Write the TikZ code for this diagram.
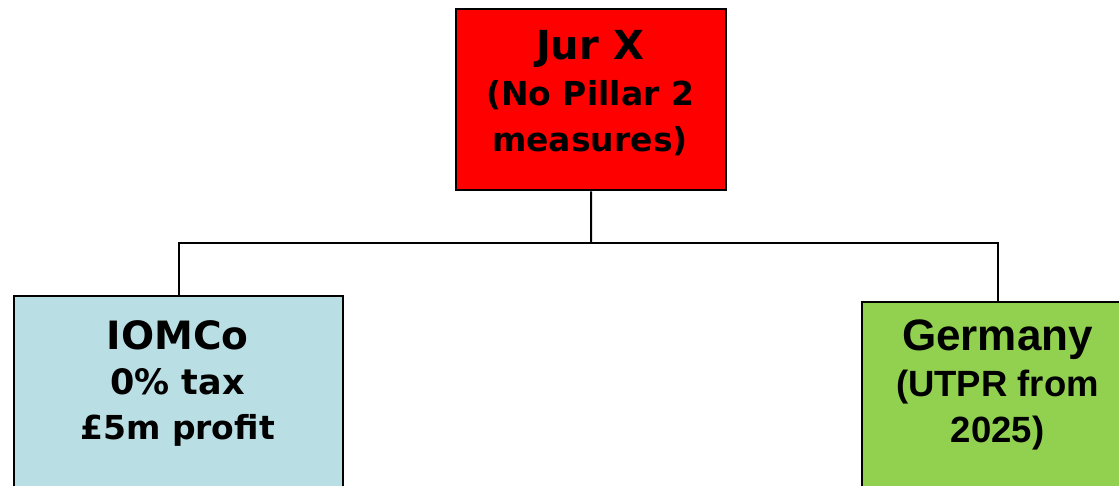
\documentclass[tikz,border=0pt]{standalone}
\usepackage{fontspec}
\setmainfont{DejaVu Sans}
\newfontfamily\arialfont{Liberation Sans}
\definecolor{boxred}{RGB}{255,0,0}
\definecolor{boxblue}{RGB}{185,223,228}
\definecolor{boxgreen}{RGB}{146,208,80}
\begin{document}
\begin{tikzpicture}[x=1pt,y=-1pt,
  box/.style={draw=black, line width=2.4pt, inner sep=0pt, anchor=north west},
  link/.style={draw=black, line width=2pt},
  lbl/.style={align=center, inner sep=0pt, anchor=north}]
\useasboundingbox (0,0) rectangle (1119,486);
\fill[white] (0,0) rectangle (1119,486);
\begin{scope}
\clip (0,0) rectangle (1119,486);
% parent and the two entities below it
\node[box, fill=boxred, minimum width=270pt, minimum height=181pt] (jur) at (455,8) {};
\node[box, fill=boxblue, minimum width=329pt, minimum height=240pt] (iom) at (13,295) {};
\node[box, fill=boxgreen, minimum width=272pt, minimum height=240pt] (ger) at (861,301) {};
% labels
\node[lbl, font=\bfseries\fontsize{33}{46}\selectfont] (jurtext) at (590,30)
  {{\fontsize{40}{47}\selectfont Jur X}\\(No Pillar 2\\measures)};
\node[lbl, font=\bfseries\fontsize{33}{45}\selectfont] (iomtext) at (177.5,320)
  {{\fontsize{39}{45}\selectfont IOMCo}\\{\fontsize{35}{45}\selectfont 0\% tax}\\£5m profit};
\node[lbl, font=\arialfont\bfseries\fontsize{36.5}{46}\selectfont] (gertext) at (997.5,320)
  {{\fontsize{44}{46}\selectfont Germany}\\(UTPR from\\2025)};
% ownership lines
\coordinate (hub) at (591,243);
\draw[link] (jur.south) -- (hub);
\draw[link] (hub) -| (iom.north);
\draw[link] (hub) -| (ger.north);
\end{scope}
\end{tikzpicture}
\end{document}
